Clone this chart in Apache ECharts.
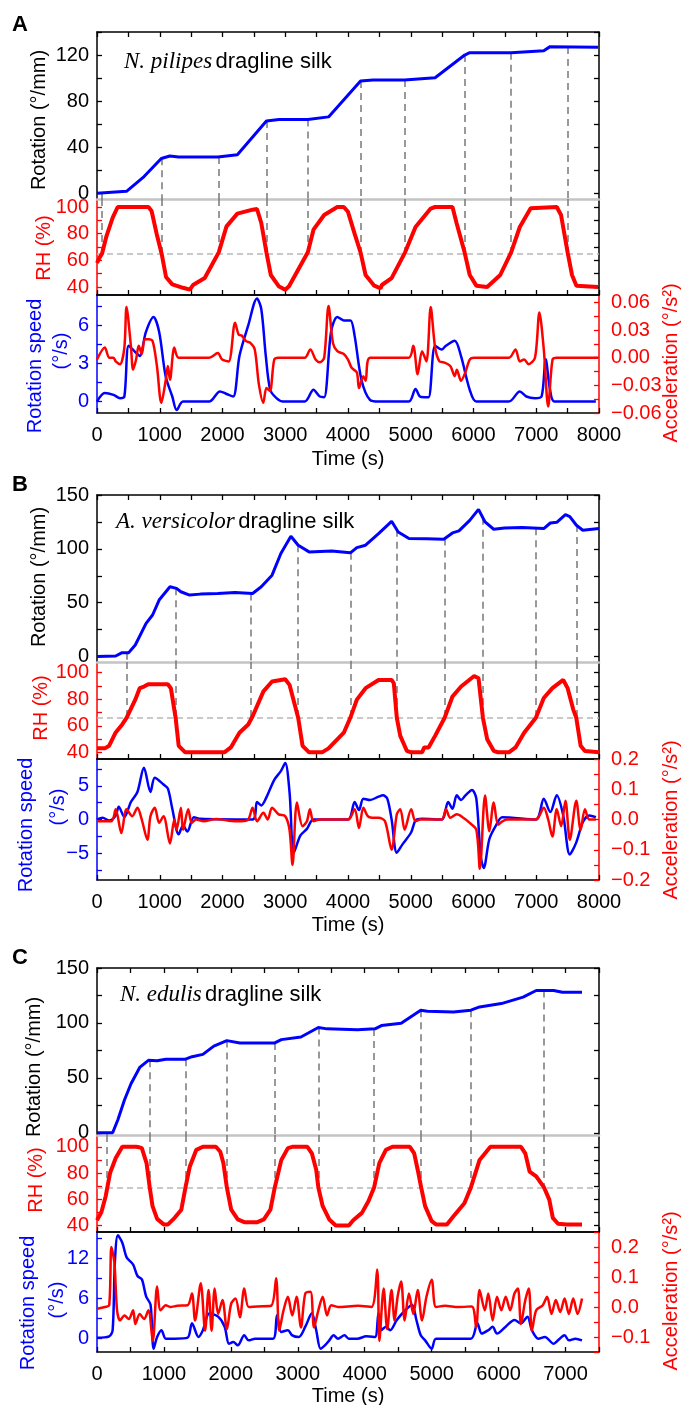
<!DOCTYPE html>
<html><head><meta charset="utf-8">
<script src="https://cdn.jsdelivr.net/npm/echarts@6/dist/echarts.min.js"></script>
<style>html,body{margin:0;padding:0;background:#fff}#c{width:681px;height:1405px}</style>
</head><body><div id="c"></div>
<script>
// ---------------- DATA ----------------
// Panel A: N. pilipes
const A_rotation = [[0,0],[470,1.7],[750,14.5],[1025,30.2],[1160,32.3],[1300,31.4],[1925,31.4],[2237,33.4],[2700,62.8],[2900,64],[3360,64],[3690,66.3],[4200,97.4],[4400,98.3],[4900,98.3],[5388,100.3],[5860,120],[5940,122],[6600,122],[7120,123.8],[7220,127.3],[7985,126.7]];
const A_rh = [[0,58],[40,62],[80,65],[150,78],[250,92],[330,100],[820,100],[870,97],[950,80],[1030,65],[1100,47.5],[1200,42],[1370,39.4],[1480,38],[1510,38],[1530,41.5],[1717,46.7],[1940,66],[2064,85.5],[2237,95],[2480,98],[2550,98.5],[2618,88],[2700,66],[2770,49],[2895,40.6],[3000,38],[3060,40.6],[3360,66],[3450,83],[3620,94],[3830,100],[3933,100],[4000,96.4],[4105,80],[4200,66],[4280,49],[4418,41],[4520,39],[4540,41.5],[4695,46.7],[4910,66],[5076,85],[5318,98.8],[5388,100],[5665,100],[5730,88],[5858,66],[5940,49],[6045,41],[6218,40],[6426,49],[6600,66],[6738,85],[6911,99],[7327,100],[7395,94],[7500,66],[7570,49],[7640,41],[7985,40]];
const A_speed = [[0,0],[125,0.67],[263,0.53],[367,0.27],[436,0.4],[505,4.4],[610,3.9],[680,3.6],[780,5.5],[900,6.67],[990,5.5],[1094,2.0],[1200,0.4],[1270,-0.67],[1370,0],[1787,0],[1960,0.8],[2064,0.6],[2170,0.4],[2270,3.6],[2410,6.0],[2550,8.13],[2618,7.3],[2690,3.6],[2760,0.93],[2860,0.27],[2964,0],[3310,0],[3450,0.93],[3550,0.4],[3620,0.35],[3730,5.5],[3830,6.67],[3933,6.4],[4040,6.4],[4105,5.2],[4215,1.7],[4350,0.13],[4490,0],[4970,0],[5076,1.0],[5145,0.4],[5215,0.35],[5284,0.35],[5388,4.4],[5492,4.1],[5560,4.4],[5700,4.8],[5800,3.6],[5940,0.93],[6045,0],[6565,0],[6738,0.8],[6842,0.4],[6980,0.27],[7085,0.4],[7150,3.33],[7220,0.93],[7290,0],[7950,0]];
const A_accel = [[0,-0.002],[125,0.011],[194,0],[263,0],[298,-0.004],[367,-0.007],[436,0.011],[470,0.055],[540,0.013],[575,-0.013],[623,-0.002],[665,0.013],[713,0.004],[762,0.02],[817,0.02],[886,0.018],[955,-0.009],[1025,-0.049],[1094,-0.025],[1129,-0.009],[1163,-0.024],[1232,0.011],[1302,0],[1787,0],[1925,0.005],[1994,-0.002],[2098,-0.004],[2200,0.038],[2258,0.025],[2306,0.024],[2375,0.018],[2444,0.016],[2514,0.009],[2580,-0.029],[2650,-0.049],[2700,-0.033],[2756,-0.036],[2825,-0.002],[2895,0],[3310,0],[3400,0.009],[3483,-0.002],[3552,-0.005],[3620,0],[3690,0.056],[3760,0.016],[3830,0.007],[3933,0.004],[4000,-0.002],[4058,-0.011],[4141,-0.016],[4175,-0.033],[4245,-0.02],[4280,-0.025],[4350,0],[4970,0],[5040,0.013],[5110,-0.018],[5180,0.007],[5250,-0.004],[5318,0.055],[5388,0.011],[5457,-0.004],[5526,-0.005],[5630,-0.009],[5700,-0.02],[5735,-0.013],[5800,-0.025],[5870,-0.016],[5940,-0.002],[6010,0],[6565,0],[6670,0.009],[6738,-0.004],[6807,-0.002],[6876,-0.007],[6980,0],[7050,0.049],[7120,0.009],[7190,-0.053],[7260,-0.002],[7330,0],[7985,0]];
const A_dashTimes = [80,1030,1940,2700,3360,4200,4910,5860,6600,7500];

// Panel B: A. versicolor
const B_rotation = [[0,0],[298,0.6],[400,3.7],[506,3.7],[610,10.8],[782,30.9],[886,38.6],[990,52.5],[1163,64.8],[1267,63.3],[1336,60.2],[1475,57.1],[1648,58],[1925,58.6],[2200,59.6],[2480,58.6],[2618,64.8],[2790,75.6],[2930,95.7],[3090,111.7],[3206,103.4],[3380,97.2],[3740,98.1],[4037,96.3],[4141,101.2],[4280,103.4],[4487,114.2],[4695,125.6],[4800,115.7],[4972,109.6],[5250,109.3],[5526,109],[5665,114.8],[5768,116.7],[5940,126.5],[6080,136.7],[6184,125],[6322,118.2],[6495,119.4],[6773,119.8],[7120,118.8],[7224,124],[7327,124.7],[7465,131.8],[7535,130],[7640,121.9],[7742,117.3],[8000,119]];
const B_rh = [[0,43],[125,43],[194,45],[298,55],[402,61],[471,66],[610,79.6],[680,88.3],[750,89.5],[817,91.3],[1129,91.3],[1177,88.3],[1253,66],[1302,44.9],[1406,40],[2030,40],[2133,43.7],[2270,54.8],[2410,61],[2480,67.2],[2652,85.9],[2790,93.3],[3000,95],[3068,90.8],[3206,66],[3276,44.9],[3380,40],[3587,40],[3690,43],[3933,54.8],[4037,66],[4141,79.7],[4280,88.3],[4487,94.5],[4695,94.5],[4730,92],[4778,66],[4833,52.4],[4937,41.2],[5007,40],[5180,40],[5215,43.7],[5284,43.7],[5388,52.4],[5540,66],[5665,82],[5803,89.6],[6011,97.5],[6080,95.8],[6150,66],[6218,49.9],[6322,41.2],[6392,40],[6565,40],[6670,43.7],[6807,54.8],[6994,66],[7120,80.9],[7257,88.3],[7430,94.5],[7500,88.3],[7590,72.2],[7638,66],[7707,45],[7776,41],[8000,40]];
const B_speed = [[0,0],[90,0.25],[194,-0.15],[298,0.6],[346,1.9],[436,0.35],[540,2.6],[644,4.1],[748,7.7],[852,4.1],[921,6.2],[1060,5.2],[1130,4.6],[1200,1.6],[1302,-2.2],[1371,-0.9],[1440,-1.8],[1544,0.35],[1648,0.1],[2480,0],[2550,2.6],[2618,2.1],[2690,3.1],[2825,5.9],[2930,7.2],[3000,8.4],[3068,4.1],[3137,-4.95],[3240,-2.4],[3345,-1.4],[3450,0],[4000,0],[4106,2.6],[4175,1.4],[4245,3.1],[4350,2.9],[4487,3.4],[4557,3.6],[4626,3.1],[4695,0],[4778,-4.95],[4868,-3.7],[5007,-1.9],[5076,-0.15],[5180,0.1],[5492,0],[5596,2.6],[5665,1.6],[5733,3.6],[5803,2.9],[5872,3.6],[5976,4.4],[6045,3.1],[6115,-5.5],[6163,-7.2],[6253,-2.9],[6357,-0.9],[6460,0.35],[6994,0],[7120,3.1],[7224,1.1],[7327,3.6],[7430,0.6],[7535,-5.2],[7638,-3.4],[7742,-0.4],[7846,0.6],[7950,0.35]];
const B_accel = [[0,-0.006],[229,-0.006],[298,0.034],[388,-0.045],[471,0.034],[561,0.011],[644,0.039],[713,0],[803,-0.067],[852,0.011],[921,0.039],[990,-0.011],[1060,0.011],[1163,-0.079],[1232,0],[1267,-0.034],[1337,0.039],[1371,-0.034],[1454,0.034],[1510,-0.011],[1580,0],[1700,-0.006],[1900,0.002],[2100,-0.004],[2300,-0.006],[2410,0],[2480,0.039],[2550,-0.006],[2652,0.022],[2720,0],[2790,0.039],[2895,0.017],[3000,0.011],[3068,-0.034],[3116,-0.15],[3186,0.056],[3276,-0.022],[3345,-0.006],[3393,0.034],[3450,-0.006],[3550,0],[4000,0],[4106,0.034],[4175,-0.028],[4245,0.039],[4314,0.011],[4383,0.006],[4487,0.006],[4590,-0.006],[4695,-0.1],[4778,0.017],[4833,0.034],[4903,-0.034],[5007,0.034],[5076,-0.006],[5150,0],[5492,0],[5561,0.034],[5630,0.006],[5733,0.017],[5837,0.006],[5940,-0.011],[6045,-0.034],[6101,-0.163],[6184,0.079],[6253,-0.039],[6322,0.056],[6392,-0.017],[6460,-0.006],[6530,0],[6994,0],[7120,0.039],[7190,0],[7257,-0.056],[7327,0.034],[7396,-0.022],[7465,0.062],[7535,-0.067],[7638,0.062],[7707,-0.034],[7776,0.034],[7846,0],[7950,0]];
const B_dashTimes = [471,1253,2458,3206,4037,4778,5540,6150,6994,7638];

// Panel C: N. edulis
const C_rotation = [[0,0],[234,0],[312,11.9],[410,29.8],[508,44.6],[638,59.5],[768,66],[898,65.5],[1028,67],[1322,67],[1420,69.3],[1582,71.4],[1745,78.9],[1940,83.9],[2135,81.8],[2656,81.8],[2754,84.8],[3047,87.2],[3307,95.8],[3437,94.6],[3893,93.75],[4153,94.6],[4250,97.6],[4544,99.7],[4837,111.6],[4935,110.7],[5326,110],[5586,111.6],[5716,114.6],[6041,117.6],[6366,123.5],[6562,129.5],[6823,129.5],[6953,128],[7246,128]];
const C_rh = [[0,44],[65,50],[130,62.3],[195,80],[280,91.4],[378,100],[586,100],[625,99.7],[670,99],[740,87.6],[788,69],[830,54.7],[898,45],[996,40.8],[1061,40.8],[1160,45.8],[1260,52],[1322,69],[1387,85],[1484,97.7],[1582,100],[1777,100],[1842,96.2],[1888,87.6],[1940,69],[2005,52],[2103,44.6],[2200,42.5],[2396,42.5],[2493,44.6],[2591,52],[2656,69],[2754,90],[2852,99],[2917,100],[3144,100],[3210,95],[3275,82.5],[3307,69],[3372,54.7],[3470,44.6],[3567,40],[3763,40],[3828,44],[3958,49.6],[4055,58.5],[4140,69],[4218,87.6],[4316,97.7],[4414,100],[4674,100],[4739,95],[4791,82.5],[4843,69],[4902,54.7],[5000,43.3],[5065,40.8],[5228,40.8],[5326,47],[5489,57],[5586,69],[5716,90],[5878,100],[6334,100],[6399,95],[6464,81],[6562,77.5],[6679,69],[6757,59.7],[6810,45.8],[6888,41.3],[7018,40.8],[7246,40.8]];
const C_speed = [[0,0.15],[182,0.35],[234,1.3],[267,11.4],[312,15.5],[378,14.4],[443,12.2],[540,11.1],[605,9.4],[670,8.9],[735,6.3],[800,5.1],[846,-1.5],[898,0.25],[963,1.27],[1028,0],[1158,0],[1354,0.15],[1419,2.3],[1517,0.25],[1582,1.27],[1680,3.8],[1810,3.3],[1907,1.8],[1972,-0.76],[2037,-0.5],[2103,-1.0],[2200,0.5],[2266,-0.25],[2363,0],[2630,0],[2689,3.5],[2754,1.0],[2852,1.27],[2917,0.5],[3014,0.25],[3112,1.8],[3210,3.8],[3275,1.27],[3340,-1.5],[3405,-1.0],[3470,-0.25],[3535,0.5],[3600,0],[3698,0.5],[3763,0],[3893,0],[4023,0.35],[4153,0.25],[4205,3.8],[4250,1.27],[4316,1.8],[4380,1.27],[4479,2.8],[4609,4.3],[4707,5.1],[4772,2.8],[4837,0.5],[4902,-0.25],[5000,-1.5],[5065,0],[5586,0],[5683,2.3],[5748,0.76],[5846,1.27],[5911,1.8],[5976,0.76],[6106,1.8],[6237,2.8],[6334,2.3],[6432,3.3],[6497,1.27],[6595,0],[6692,0.25],[6823,-0.76],[6888,-0.25],[6986,0.5],[7050,-0.25],[7148,0],[7246,-0.25]];
const C_accel = [[0,-0.006],[117,0],[182,0.006],[215,0.2],[260,0.147],[300,-0.011],[345,-0.045],[410,-0.028],[475,-0.04],[540,-0.011],[573,-0.057],[638,-0.023],[703,-0.04],[768,-0.011],[833,-0.113],[898,0.068],[950,-0.011],[1028,0.006],[1093,0],[1200,0.004],[1354,0.006],[1419,0.045],[1465,-0.045],[1550,0.079],[1615,-0.079],[1667,0.057],[1712,-0.079],[1758,0.062],[1810,-0.023],[1875,0.023],[1940,-0.074],[2005,0.011],[2070,0.028],[2135,-0.034],[2200,0.062],[2266,0],[2400,0.002],[2600,0.004],[2676,0.096],[2722,-0.079],[2787,-0.011],[2852,0.034],[2917,-0.028],[2982,0.034],[3047,-0.068],[3112,0.045],[3190,0.051],[3242,-0.068],[3307,-0.011],[3372,0.034],[3437,-0.028],[3500,0.006],[3600,0],[3900,0.004],[4100,0],[4186,0.125],[4218,-0.113],[4283,0.062],[4335,-0.074],[4400,0.057],[4446,-0.045],[4491,0.034],[4544,0.085],[4596,-0.045],[4661,0.045],[4726,-0.023],[4791,0.057],[4856,-0.045],[4922,0.034],[5000,0.091],[5065,0],[5200,0.004],[5400,0],[5600,0.002],[5664,-0.068],[5716,0.057],[5794,-0.011],[5846,0.045],[5911,-0.045],[5976,0.034],[6041,-0.011],[6106,0.034],[6172,-0.011],[6237,0.045],[6289,0.062],[6334,-0.057],[6399,0.023],[6451,0.062],[6497,-0.079],[6562,-0.011],[6660,0.006],[6725,0.034],[6790,-0.023],[6855,0.023],[6920,-0.017],[6986,0.028],[7050,-0.023],[7115,0.028],[7180,-0.023],[7246,0.028]];
const C_dashTimes = [150,788,1322,1940,2656,3307,4140,4843,5586,6679];

// ---------------- TICKS ----------------
const AB_timeTicks = [0,500,1000,1500,2000,2500,3000,3500,4000,4500,5000,5500,6000,6500,7000,7500,8000];
const AB_timeLabels = [0,1000,2000,3000,4000,5000,6000,7000,8000];
const C_timeTicks = [0,500,1000,1500,2000,2500,3000,3500,4000,4500,5000,5500,6000,6500,7000,7500];
const C_timeLabels = [0,1000,2000,3000,4000,5000,6000,7000];
const A_rotTicks = [0,20,40,60,80,100,120,140];
const A_rotLabels = [0,40,80,120];
const BC_rotTicks = [0,25,50,75,100,125,150];
const BC_rotLabels = [0,50,100,150];
const RH_ticks = [40,50,60,70,80,90,100];
const RH_labels = [40,60,80,100];
const A_speedTicks = [0,1.5,3,4.5,6,7.5];
const A_speedLabels = [0,3,6];
const A_accelTicks = [-0.06,-0.045,-0.03,-0.015,0,0.015,0.03,0.045,0.06];
const A_accelLabels = [-0.06,-0.03,0,0.03,0.06];
const B_speedTicks = [-7.5,-5,-2.5,0,2.5,5,7.5];
const B_speedLabels = [-5,0,5];
const B_accelTicks = [-0.2,-0.15,-0.1,-0.05,0,0.05,0.1,0.15,0.2];
const B_accelLabels = [-0.2,-0.1,0,0.1,0.2];
const C_speedTicks = [0,3,6,9,12,15];
const C_speedLabels = [0,6,12];
const C_accelTicks = [-0.15,-0.1,-0.05,0,0.05,0.1,0.15,0.2,0.25];
const C_accelLabels = [-0.1,0,0.1,0.2];

// ---------------- LAYOUT / STYLE ----------------
const FONT = '"Liberation Sans", Arial, sans-serif';
const BLUE = '#0000ff', RED = '#ff0000', BLACK = '#000000';
const LEFT = 97, RIGHT = 82;
const TICKFS = 20;
const panels = [
  {letter:'A', name:'N. pilipes', grids:[[32,167],[199,96],[295,118]], xmax:8000, xt:AB_timeTicks, xl:AB_timeLabels,
   rot:A_rotation, rh:A_rh, spd:A_speed, acc:A_accel, dash:A_dashTimes,
   rotR:[-5,140], rotT:A_rotTicks, rotL:A_rotLabels, rhR:[34,106], rhRef:65,
   spdR:[-0.9,8.4], spdT:A_speedTicks, spdL:A_speedLabels, accR:[-0.06,0.068], accT:A_accelTicks, accL:A_accelLabels, accDec:2,
   letterY:25, noteX:124, noteY:62, rotTitle:[39,120], rhTitle:[44,248], spdTitle:[35,366,61,351], accTitle:[671,363], timeY:459},
  {letter:'B', name:'A. versicolor', grids:[[495,167],[662,97],[759,121]], xmax:8000, xt:AB_timeTicks, xl:AB_timeLabels,
   rot:B_rotation, rh:B_rh, spd:B_speed, acc:B_accel, dash:B_dashTimes,
   rotR:[-5,150], rotT:BC_rotTicks, rotL:BC_rotLabels, rhR:[35,108], rhRef:66,
   spdR:[-9,9], spdT:B_speedTicks, spdL:B_speedLabels, accR:[-0.2,0.2], accT:B_accelTicks, accL:B_accelLabels, accDec:1,
   letterY:485, noteX:116, noteY:522, rotTitle:[39,577], rhTitle:[41,708], spdTitle:[26,825,58,807], accTitle:[671,820], timeY:925},
  {letter:'C', name:'N. edulis', grids:[[968,167],[1135,97],[1232,120]], xmax:7500, xt:C_timeTicks, xl:C_timeLabels,
   rot:C_rotation, rh:C_rh, spd:C_speed, acc:C_accel, dash:C_dashTimes,
   rotR:[-2,150], rotT:BC_rotTicks, rotL:BC_rotLabels, rhR:[35,109], rhRef:69,
   spdR:[-2,16], spdT:C_speedTicks, spdL:C_speedLabels, accR:[-0.15,0.25], accT:C_accelTicks, accL:C_accelLabels, accDec:1,
   letterY:958, noteX:120, noteY:995, rotTitle:[34,1067], rhTitle:[36,1180], spdTitle:[28,1303,57,1300], accTitle:[671,1291], timeY:1396}
];

function minus(s){ return s.replace('-', '\u2212'); }
function interp(data, t){
  for (let i=1;i<data.length;i++){
    if (t <= data[i][0]) {
      const a=data[i-1], b=data[i];
      return a[1] + (b[1]-a[1])*(t-a[0])/(b[0]-a[0]);
    }
  }
  return data[data.length-1][1];
}

const grid=[], xAxis=[], yAxis=[], series=[], graphic=[];

function xAx(gi, pos, max, opt){
  const o = {type:'value', gridIndex:gi, position:pos, min:0, max:max,
    axisLine:{show:true, onZero:false, lineStyle:{color:opt.lineColor||BLACK, width:opt.lineWidth||1.5}},
    splitLine:{show:false},
    axisTick:opt.ticks ? {show:true, inside:true, length:5, lineStyle:{color:BLACK, width:1.3}, customValues:opt.ticks} : {show:false},
    axisLabel:opt.labels ? {show:true, customValues:opt.labels, color:BLACK, fontSize:TICKFS, fontFamily:FONT, margin:12,
      formatter:function(v){ return String(v); }} : {show:false}
  };
  xAxis.push(o); return xAxis.length-1;
}
function yAx(gi, pos, range, opt){
  const o = {type:'value', gridIndex:gi, position:pos, min:range[0], max:range[1],
    axisLine:{show:true, onZero:false, lineStyle:{color:opt.color, width:1.5}},
    splitLine:{show:false},
    axisTick:{show:true, inside:true, length:5, lineStyle:{color:opt.color, width:1.3}, customValues:opt.ticks},
    axisLabel:opt.labels ? {show:true, customValues:opt.labels, color:opt.color, fontSize:TICKFS, fontFamily:FONT, margin:pos==='left'?8:12, formatter:opt.fmt} : {show:false}
  };
  yAxis.push(o); return yAxis.length-1;
}
function txt(x, y, text, color, size, rot, weight){
  graphic.push({type:'text', x:x, y:y, rotation:rot||0, silent:true,
    style:{text:text, fill:color, font:(weight?weight+' ':'')+size+'px '+FONT, textAlign:'center', textVerticalAlign:'middle'}});
}

panels.forEach(function(p){
  const g0 = grid.length;
  p.grids.forEach(function(g){ grid.push({left:LEFT, right:RIGHT, top:g[0], height:g[1], containLabel:false}); });
  // ---- rotation grid
  const xr = xAx(g0, 'top', p.xmax, {ticks:p.xt});
  xAx(g0, 'bottom', p.xmax, {lineColor:'#c4c4c4', lineWidth:2.5});
  const yr = yAx(g0, 'left', p.rotR, {color:BLACK, ticks:p.rotT, labels:p.rotL, fmt:function(v){return String(v);}});
  yAx(g0, 'right', p.rotR, {color:BLACK, ticks:p.rotT});
  series.push({type:'lines', coordinateSystem:'cartesian2d', xAxisIndex:xr, yAxisIndex:yr, silent:true, z:1,
    lineStyle:{color:'#777777', width:1.5, type:[7,5], opacity:1},
    data:p.dash.map(function(t){ return {coords:[[t, interp(p.rot, t)], [t, p.rotR[0]]]}; })});
  series.push({type:'line', xAxisIndex:xr, yAxisIndex:yr, data:p.rot, showSymbol:false, silent:true, z:3,
    lineStyle:{color:BLUE, width:3}, itemStyle:{color:BLUE}});
  // ---- RH grid
  const xh = xAx(g0+1, 'bottom', p.xmax, {ticks:p.xt});
  const yh = yAx(g0+1, 'left', p.rhR, {color:RED, ticks:RH_ticks, labels:RH_labels, fmt:function(v){return String(v);}});
  yAx(g0+1, 'right', p.rhR, {color:BLACK, ticks:RH_ticks});
  series.push({type:'lines', coordinateSystem:'cartesian2d', xAxisIndex:xh, yAxisIndex:yh, silent:true, z:1,
    lineStyle:{color:'#777777', width:1.5, type:[7,5], opacity:1},
    data:p.dash.map(function(t){ return {coords:[[t, p.rhR[1]], [t, p.rhRef]]}; })});
  series.push({type:'line', xAxisIndex:xh, yAxisIndex:yh, data:p.rh, showSymbol:false, silent:true, z:3,
    lineStyle:{color:RED, width:4}, itemStyle:{color:RED},
    markLine:{silent:true, symbol:'none', label:{show:false}, lineStyle:{color:'#b8b8b8', width:1.5, type:[6,4]}, data:[{yAxis:p.rhRef}], z:1}});
  // ---- speed / acceleration grid
  xAx(g0+2, 'top', p.xmax, {});
  const xs = xAx(g0+2, 'bottom', p.xmax, {ticks:p.xt, labels:p.xl});
  const ys = yAx(g0+2, 'left', p.spdR, {color:BLUE, ticks:p.spdT, labels:p.spdL, fmt:function(v){return minus(String(v));}});
  const ya = yAx(g0+2, 'right', p.accR, {color:RED, ticks:p.accT, labels:p.accL, fmt:function(v){ return minus((Math.round(v*1000)/1000).toFixed(p.accDec)); }});
  series.push({type:'line', xAxisIndex:xs, yAxisIndex:ys, data:p.spd, showSymbol:false, silent:true, smooth:0.3, z:3,
    lineStyle:{color:BLUE, width:2.5}, itemStyle:{color:BLUE}});
  series.push({type:'line', xAxisIndex:xs, yAxisIndex:ya, data:p.acc, showSymbol:false, silent:true, smooth:0.3, z:4,
    lineStyle:{color:RED, width:2.5}, itemStyle:{color:RED}});
  // ---- texts
  txt(20, p.letterY, p.letter, BLACK, 22, 0, 'bold');
  graphic.push({type:'text', x:p.noteX, y:p.noteY, silent:true, style:{
    text:'{i|'+p.name+'} {n|dragline silk}', textVerticalAlign:'middle', textAlign:'left',
    rich:{i:{fontFamily:'"Liberation Serif", "Times New Roman", serif', fontStyle:'italic', fontSize:23, fill:BLACK},
          n:{fontFamily:FONT, fontSize:22, fill:BLACK}}}});
  txt(p.rotTitle[0], p.rotTitle[1], 'Rotation (°/mm)', BLACK, 20, Math.PI/2);
  txt(p.rhTitle[0], p.rhTitle[1], 'RH (%)', RED, 20, Math.PI/2);
  txt(p.spdTitle[0], p.spdTitle[1], 'Rotation speed', BLUE, 20, Math.PI/2);
  txt(p.spdTitle[2], p.spdTitle[3], '(°/s)', BLUE, 20, Math.PI/2);
  txt(p.accTitle[0], p.accTitle[1], 'Acceleration (°/s²)', RED, 20, Math.PI/2);
  txt((LEFT + 681 - RIGHT)/2, p.timeY, 'Time (s)', BLACK, 20, 0);
});

const chart = echarts.init(document.getElementById('c'), null, {renderer:'canvas'});
chart.setOption({animation:false, backgroundColor:'#ffffff', grid:grid, xAxis:xAxis, yAxis:yAxis, series:series, graphic:graphic});
</script></body></html>
